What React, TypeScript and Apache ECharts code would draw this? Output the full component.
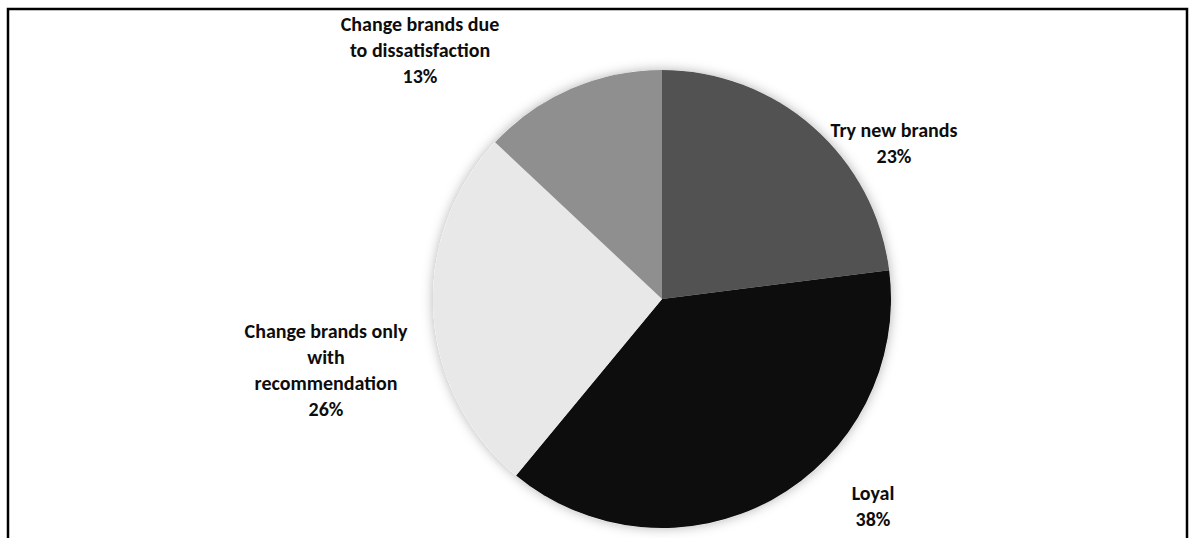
import React, { useEffect, useRef } from "react";
import * as echarts from "echarts";

const categories = [
  "Try new brands",
  "Loyal",
  "Change brands only with recommendation",
  "Change brands due to dissatisfaction",
];
const values = [23, 38, 26, 13];
const labelLines = [
  ["Try new brands"],
  ["Loyal"],
  ["Change brands only", "with", "recommendation"],
  ["Change brands due", "to dissatisfaction"],
];
const colors = ["#525252", "#0d0d0d", "#e8e8e8", "#8f8f8f"];

// label anchor layout (pixel centres of each label block)
const labelPos: [number, number][] = [
  [894, 143],
  [873, 506],
  [326, 370],
  [420, 50],
];

export default function App() {
  const ref = useRef<HTMLDivElement>(null);
  useEffect(() => {
    if (!ref.current) return;
    const chart = echarts.init(ref.current, undefined, { renderer: "svg" });
    const total = values.reduce((a, b) => a + b, 0);
    chart.setOption({
      animation: false,
      backgroundColor: "#ffffff",
      graphic: [
        {
          type: "rect",
          shape: { x: 8, y: 9, width: 1179, height: 600 },
          style: { fill: "none", stroke: "#000", lineWidth: 2.5 },
          silent: true,
        },
      ],
      series: [
        {
          type: "pie",
          center: [662, 299],
          radius: 229,
          silent: true,
          z: 1,
          label: { show: false },
          labelLine: { show: false },
          itemStyle: {
            color: "#ffffff",
            shadowBlur: 12,
            shadowColor: "rgba(0,0,0,0.3)",
          },
          data: [{ value: total, name: "" }],
        },
        {
          type: "pie",
          center: [662, 299],
          radius: 229,
          startAngle: 90,
          clockwise: true,
          z: 2,
          avoidLabelOverlap: false,
          itemStyle: { borderWidth: 0 },
          labelLine: { show: false },
          label: {
            show: true,
            position: "outside",
            fontFamily: "Carlito, Lato, sans-serif",
            fontWeight: "bold",
            fontSize: 20,
            lineHeight: 26,
            color: "#0d0d0d",
            align: "center",
            formatter: (p: any) =>
              labelLines[p.dataIndex].join("\n") + "\n" + Math.round(p.percent) + "%",
          },
          labelLayout: (p: any) => ({
            x: labelPos[p.dataIndex][0],
            y: labelPos[p.dataIndex][1],
            align: "center",
            verticalAlign: "middle",
          }),
          data: categories.map((c, i) => ({
            name: c,
            value: values[i],
            itemStyle: { color: colors[i] },
          })),
        },
      ],
    });
    return () => chart.dispose();
  }, []);
  return (
    <div
      ref={ref}
      style={{ position: "fixed", left: 0, top: 0, width: 1189, height: 538 }}
    />
  );
}
